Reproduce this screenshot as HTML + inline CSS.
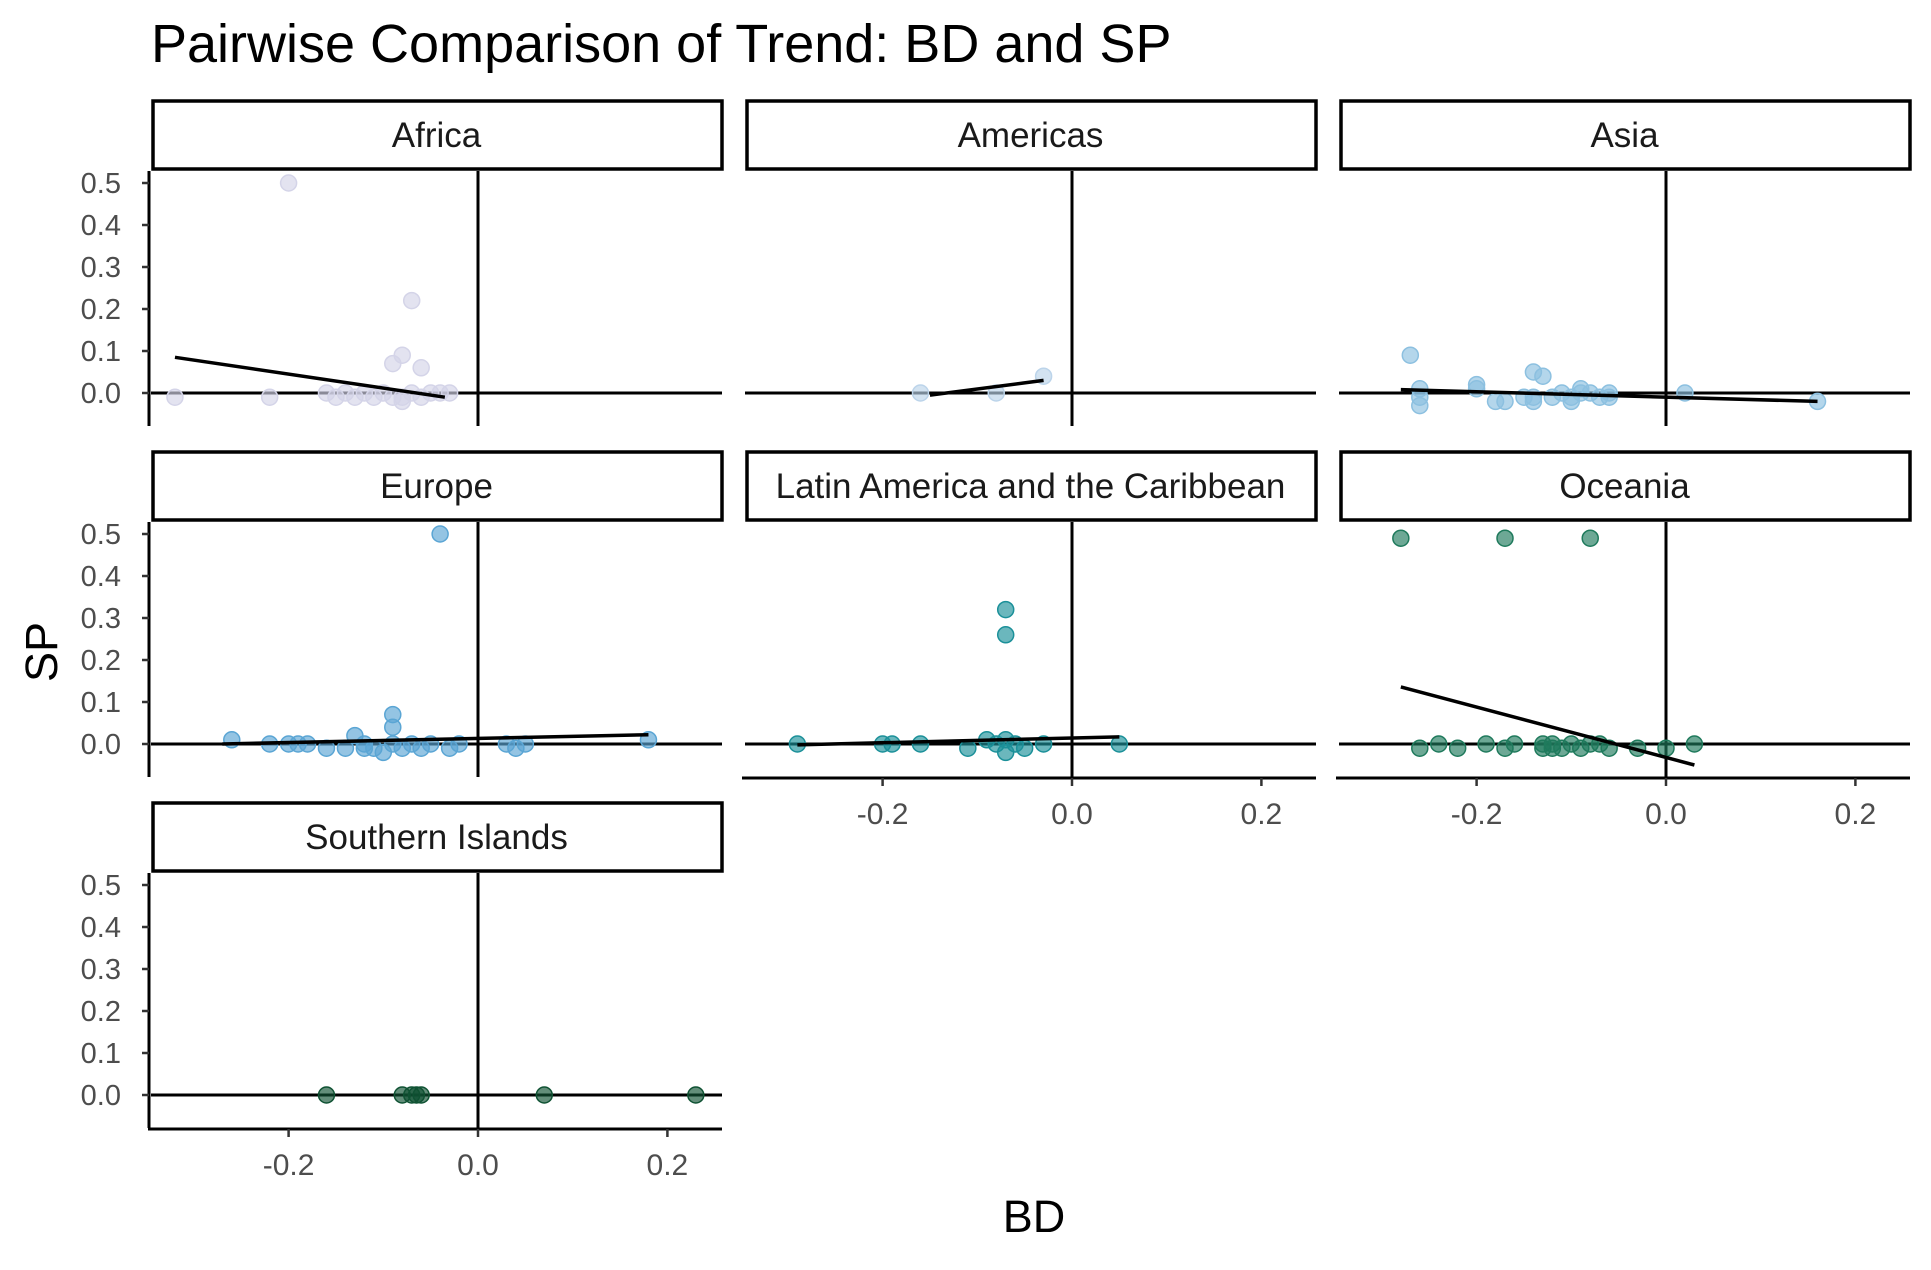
<!DOCTYPE html>
<html><head><meta charset="utf-8"><style>
body{margin:0;background:#fff;}
svg text{font-family:"Liberation Sans",sans-serif;}
</style></head><body>
<svg id="c" width="1931" height="1265" xmlns="http://www.w3.org/2000/svg">
<text x="151" y="62" font-size="54" fill="#000">Pairwise Comparison of Trend: BD and SP</text>
<text x="1034" y="1232" font-size="45" text-anchor="middle" fill="#000">BD</text>
<text x="0" y="0" font-size="45" text-anchor="middle" fill="#000" transform="translate(57,652) rotate(-90)">SP</text>
</svg>
<script>
const regions = ["Africa","Americas","Asia","Europe","Latin America and the Caribbean","Oceania","Southern Islands"];
const colors = ["#d4d4e8","#bcd4ea","#8cc0e0","#5aa5d4","#1b9099","#1f7a5c","#0f5233"];
const africaBD = [-0.32,-0.22,-0.2,-0.16,-0.15,-0.14,-0.13,-0.12,-0.11,-0.1,-0.09,-0.08,-0.07,-0.07,-0.08,-0.09,-0.06,-0.08,-0.06,-0.05,-0.04,-0.03];
const africaSP = [-0.01,-0.01,0.5,0,-0.01,0,-0.01,0,-0.01,0,-0.01,-0.01,0,0.22,0.09,0.07,0.06,-0.02,-0.01,0,0,0];
const americasBD = [-0.16,-0.08,-0.03];
const americasSP = [0,0,0.04];
const asiaBD = [-0.27,-0.26,-0.26,-0.26,-0.2,-0.2,-0.18,-0.17,-0.15,-0.14,-0.13,-0.14,-0.14,-0.12,-0.11,-0.1,-0.1,-0.09,-0.09,-0.08,-0.07,-0.06,-0.06,0.02,0.16];
const asiaSP = [0.09,0.01,-0.01,-0.03,0.02,0.01,-0.02,-0.02,-0.01,0.05,0.04,-0.01,-0.02,-0.01,0,-0.01,-0.02,0,0.01,0,-0.01,0,-0.01,0,-0.02];
const europeBD = [-0.26,-0.22,-0.2,-0.19,-0.18,-0.16,-0.14,-0.13,-0.12,-0.12,-0.11,-0.1,-0.09,-0.09,-0.09,-0.08,-0.07,-0.06,-0.05,-0.04,-0.03,-0.02,0.03,0.04,0.05,0.18];
const europeSP = [0.01,0,0,0,0,-0.01,-0.01,0.02,0,-0.01,-0.01,-0.02,0.07,0.04,0,-0.01,0,-0.01,0,0.5,-0.01,0,0,-0.01,0,0.01];
const latinBD = [-0.29,-0.2,-0.19,-0.16,-0.11,-0.09,-0.08,-0.07,-0.07,-0.07,-0.07,-0.06,-0.05,-0.03,0.05];
const latinSP = [0,0,0,0,-0.01,0.01,0,0.32,0.26,-0.02,0.01,0,-0.01,0,0];
const oceaniaBD = [-0.28,-0.17,-0.08,-0.26,-0.24,-0.22,-0.19,-0.17,-0.16,-0.13,-0.13,-0.12,-0.12,-0.11,-0.1,-0.09,-0.08,-0.07,-0.06,-0.03,0,0.03];
const oceaniaSP = [0.49,0.49,0.49,-0.01,0,-0.01,0,-0.01,0,0,-0.01,0,-0.01,-0.01,0,-0.01,0,0,-0.01,-0.01,-0.01,0];
const southernBD = [-0.16,-0.08,-0.07,-0.065,-0.06,0.07,0.23];
const southernSP = [0,0,0,0,0,0,0];
const trendX0 = [-0.32,-0.15,-0.28,-0.27,-0.29,-0.28,null];
const trendY0 = [0.085,-0.005,0.008,0,-0.002,0.136,null];
const trendX1 = [-0.035,-0.03,0.16,0.18,0.05,0.03,null];
const trendY1 = [-0.01,0.03,-0.02,0.022,0.017,-0.05,null];
const yTicks = [0,0.1,0.2,0.3,0.4,0.5];
const yTickLabels = ["0.0","0.1","0.2","0.3","0.4","0.5"];
const xTicks = [-0.2,0,0.2];
const xTickLabels = ["-0.2","0.0","0.2"];
const allBD = [africaBD,americasBD,asiaBD,europeBD,latinBD,oceaniaBD,southernBD];
const allSP = [africaSP,americasSP,asiaSP,europeSP,latinSP,oceaniaSP,southernSP];

const svg = document.getElementById('c');
const NS = "http://www.w3.org/2000/svg";
function mk(tag, attrs, parent){const e=document.createElementNS(NS,tag);for(const k in attrs)e.setAttribute(k,attrs[k]);(parent||svg).appendChild(e);return e;}
const PW=571, PL=151, COLOFF=594, ROWOFF=351;
const xs=(v,c)=>478+c*COLOFF+v*947;
const ys=(v,r)=>393+r*ROWOFF-v*420;
const bottomPanel=[false,false,false,false,true,true,true];
regions.forEach((name,i)=>{
  const c=i%3, r=Math.floor(i/3);
  const left=PL+c*COLOFF, right=left+PW, top=171+r*ROWOFF, bot=426+r*ROWOFF;
  const g=mk('g',{});
  
  
  const strip=mk('rect',{x:left+2,y:top-70,width:PW-2,height:68,fill:'#fff',stroke:'#000','stroke-width':3.5},g);
  
  
  const st=mk('text',{x:left+PW/2,y:top-24,'font-size':35,'text-anchor':'middle',fill:'#1a1a1a'},g);
  st.textContent=name;
  
  
  const hl=mk('line',{x1:left,x2:right,y1:ys(0,r),y2:ys(0,r),stroke:'#000','stroke-width':3},g);
  
  
  const vl=mk('line',{x1:xs(0,c),x2:xs(0,c),y1:top,y2:bot,stroke:'#000','stroke-width':3},g);
  
  
  if(c===0){
    const ax=mk('line',{x1:left-2,x2:left-2,y1:top,y2:bot,stroke:'#000','stroke-width':3},g);
    
    
    yTicks.forEach((t,k)=>{
      mk('line',{x1:left-9,x2:left-2,y1:ys(t,r),y2:ys(t,r),stroke:'#333','stroke-width':2.5},g);
      const tl=mk('text',{x:left-30,y:ys(t,r)+10,'font-size':29,'text-anchor':'end',fill:'#4d4d4d'},g);
      tl.textContent=yTickLabels[k];
      
      
    });
  }
  if(bottomPanel[i]){
    const xa=mk('line',{x1:left-3,x2:right,y1:bot+1,y2:bot+1,stroke:'#000','stroke-width':3},g);
    
    
    xTicks.forEach((t,k)=>{
      mk('line',{x1:xs(t,c),x2:xs(t,c),y1:bot+1,y2:bot+9,stroke:'#333','stroke-width':2.5},g);
      const tl=mk('text',{x:xs(t,c),y:bot+47,'font-size':30,'text-anchor':'middle',fill:'#4d4d4d'},g);
      tl.textContent=xTickLabels[k];
      
      
    });
  }
  allBD[i].forEach((bd,k)=>{
    const p=mk('circle',{cx:xs(bd,c),cy:ys(allSP[i][k],r),r:8,fill:colors[i],'fill-opacity':0.65,stroke:colors[i],'stroke-width':1.5},g);
    
    
  });
  if(trendX0[i]!==null){
    const tr=mk('line',{x1:xs(trendX0[i],c),y1:ys(trendY0[i],r),x2:xs(trendX1[i],c),y2:ys(trendY1[i],r),stroke:'#000','stroke-width':3.5},g);
    
    
  }
});
</script>
</body></html>
